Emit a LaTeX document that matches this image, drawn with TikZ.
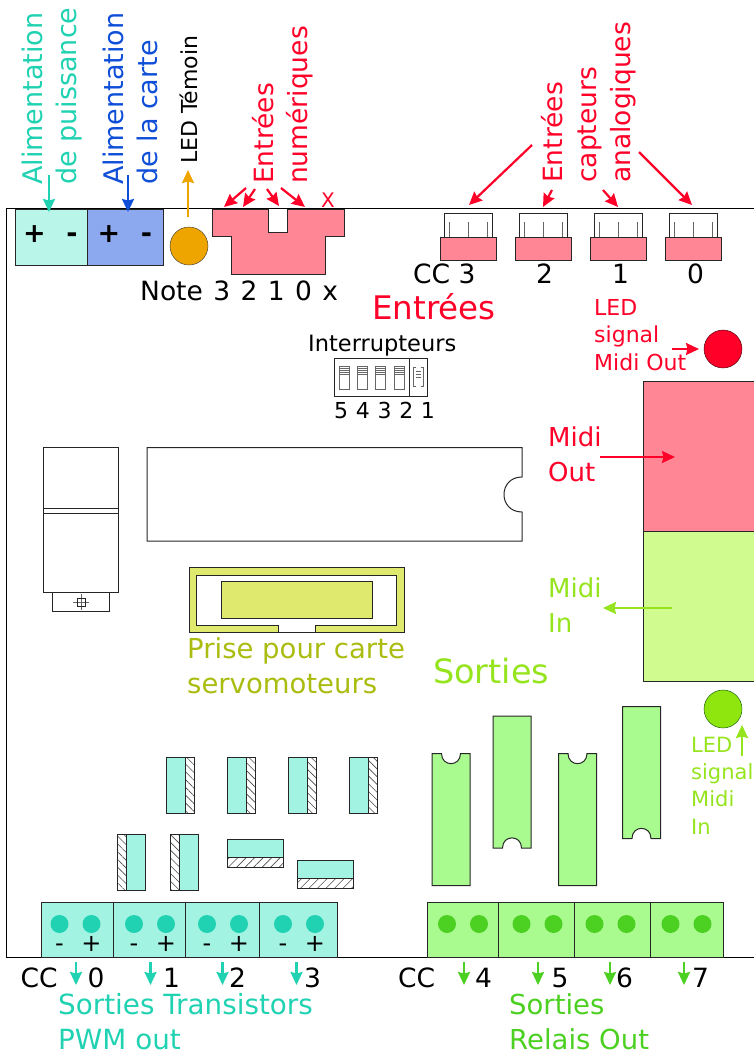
\documentclass[tikz,border=0pt]{standalone}
\usepackage{fontspec}
\setmainfont{DejaVu Sans}
\usepackage{xcolor}
\usetikzlibrary{arrows.meta,patterns.meta}
\definecolor{pink}{RGB}{255,135,149}
\definecolor{redtxt}{RGB}{255,0,40}
\definecolor{tealtxt}{RGB}{32,210,178}
\definecolor{tealpale}{RGB}{185,245,233}
\definecolor{tealfill}{RGB}{163,243,227}
\definecolor{bluefill}{RGB}{140,168,238}
\definecolor{bluetxt}{RGB}{15,79,216}
\definecolor{orangeled}{RGB}{239,165,0}
\definecolor{limefill}{RGB}{208,251,143}
\definecolor{limetxt}{RGB}{150,228,30}
\definecolor{ledlime}{RGB}{143,230,14}
\definecolor{greenfill}{RGB}{170,251,143}
\definecolor{greentxt}{RGB}{76,208,33}
\definecolor{olivetxt}{RGB}{170,188,16}
\definecolor{olivefill}{RGB}{223,233,110}
\newcommand{\fs}[1]{\fontsize{#1}{1.24\dimexpr#1pt\relax}\selectfont}
\tikzset{
	part/.style={draw=black!85,line width=1pt},
	txt/.style={inner sep=0pt,anchor=base west,align=left},
	vtxt/.style={txt,rotate=90},
	ptr/.style={line width=2.2pt,-{Stealth[length=13pt,width=12pt,inset=1.5pt]}},
	pin/.style={draw=black!60,line width=0.8pt},
	hatchv/.style={part,pattern={Lines[angle=-45,distance=5.5pt,line width=0.6pt]},pattern color=black!70},
	hatchh/.style={part,pattern={Lines[angle=45,distance=6pt,line width=0.6pt]},pattern color=black!70},
}
\begin{document}
\begin{tikzpicture}[x=1pt,y=-1pt]
	\useasboundingbox (0,0) rectangle (754,1053);

	% carte
	\draw[line width=0.8pt] (754,208.5) -- (6,208.5) -- (6,957.5) -- (754,957.5);

	% alimentations
	\filldraw[part,fill=tealpale] (15.5,209) rectangle (87,265);
	\filldraw[part,fill=bluefill] (87,209) rectangle (163.5,265);
	\foreach \nom/\x/\s in {pa/34.5/+,pb/72/-,pc/109/+,pd/146.5/-}
		\node[font=\fs{27}\bfseries,anchor=base,inner sep=0pt] (\nom) at (\x,242.5) {\s};
	\filldraw[draw=black!80,fill=orangeled] (189,246) circle (19);

	% entrees numeriques
	\filldraw[part,fill=pink] (212.5,209) -- (268.5,209) -- (268.5,232) -- (287.5,232) -- (287.5,209) -- (344,209) -- (344,236.5) -- (325,236.5) -- (325,274) -- (231.5,274) -- (231.5,236.5) -- (212.5,236.5) -- cycle;
	\node[txt,font=\fs{20},text=redtxt] (croix) at (321,207) {X};
	\node[txt,font=\fs{26.5}] (note) at (140,300) {\spaceskip=10.4pt Note 3 2 1 0 x};

	% entrees analogiques
	\foreach \x in {468,543,618,693} {
		\filldraw[part,fill=white] (\x-24,213) rectangle (\x+24,237);
		\foreach \d in {-19,0,19}
			\draw[pin] (\x+\d,222) -- (\x+\d,237);
		\filldraw[part,fill=pink] (\x-28,237) rectangle (\x+28,260);
	}
	\node[txt,font=\fs{26.5}] (cca) at (413,283) {CC 3};
	\node[txt,font=\fs{26.5}] (ccb) at (536,283) {2};
	\node[txt,font=\fs{26.5}] (ccc) at (612,283) {1};
	\node[txt,font=\fs{26.5}] (ccd) at (687,283) {0};
	\node[txt,font=\fs{32.5},text=redtxt] (entrees) at (372,319) {Entrées};

	% interrupteurs
	\node[txt,font=\fs{22.5}] (inter) at (308,351) {Interrupteurs};
	\draw[part] (334,358) rectangle (427.5,396);
	\draw[part] (409,358) -- (409,396);
	\foreach \x in {339,357.3,375.7,394} {
		\draw[pin] (\x,366) rectangle (\x+10,389);
		\foreach \y in {368,370,372,374}
			\draw[black!60,line width=0.6pt] (\x,\y) -- (\x+10,\y);
	}
	\draw[pin] (415.5,367) -- (413,367) -- (413,386) -- (415.5,386);
	\draw[pin] (420.5,367) -- (423,367) -- (423,386) -- (420.5,386);
	\foreach \y in {371,374,377}
		\draw[black!60,line width=0.6pt] (415.5,\y) -- (420.5,\y);
	\node[txt,font=\fs{22}] (numinter) at (334,418) {\spaceskip=7.7pt 5 4 3 2 1};

	% midi
	\filldraw[draw=redtxt!20!black,fill=redtxt] (723,349) circle (19);
	\node[txt,font=\fs{22},text=redtxt] (ledout) at (594,370) {LED\\signal\\Midi Out};
	\filldraw[part,fill=pink] (643,381) rectangle (755,531);
	\filldraw[part,fill=limefill] (643,531) rectangle (755,681);
	\node[txt,font=\fs{26},text=redtxt] (midiout) at (548,481) {Midi\\[2pt]Out};
	\node[txt,font=\fs{26},text=limetxt] (midiin) at (548,632) {Midi\\[2pt]In};
	\filldraw[draw=green!30!black,fill=ledlime] (723,709) circle (19);
	\node[txt,font=\fs{21},text=limetxt] (ledin) at (691,834) {LED\\[1pt]signal\\[1pt]Midi\\[1pt]In};

	% regulateur
	\draw[part] (43.5,447.5) rectangle (118.5,592.5);
	\draw[part] (43.5,508) -- (118.5,508);
	\draw[part] (43.5,513) -- (118.5,513);
	\draw[part] (52.5,592.5) rectangle (109.5,611.5);
	\draw[pin] (73,602) -- (89,602);
	\draw[pin] (81,594) -- (81,610);
	\draw[part] (77.5,598) rectangle (85,606);

	% microcontroleur
	\draw[part] (147,447.5) -- (522,447.5) -- (522,477) .. controls (498,477) and (498,512) .. (522,512) -- (522,541) -- (147,541) -- cycle;

	% prise servomoteurs
	\filldraw[part,fill=olivefill] (189,567.5) rectangle (404,632);
	\filldraw[part,fill=white] (196,575) -- (396.5,575) -- (396.5,625.5) -- (315.5,625.5) -- (315.5,632) -- (278.5,632) -- (278.5,625.5) -- (196,625.5) -- cycle;
	\filldraw[part,fill=olivefill] (221.5,581.5) rectangle (372.5,618.5);
	\node[txt,font=\fs{27.5},text=olivetxt] (prise) at (187,693) {Prise pour carte\\servomoteurs};

	\node[txt,font=\fs{33.5},text=limetxt] (sorties) at (433,683) {Sorties};

	% transistors
	\foreach \x in {166,227,288,349} {
		\filldraw[part,fill=tealfill] (\x,757) rectangle (\x+19,813);
		\draw[hatchv] (\x+19,757) rectangle (\x+28,813);
	}
	\foreach \x in {117,170} {
		\filldraw[part,fill=tealfill] (\x+9.5,834) rectangle (\x+28,890);
		\draw[hatchv] (\x,834) rectangle (\x+9.5,890);
	}
	\foreach \x/\y in {227/839,297/860} {
		\filldraw[part,fill=tealfill] (\x,\y) rectangle (\x+56.5,\y+18.5);
		\draw[hatchh] (\x,\y+18.5) rectangle (\x+56.5,\y+28);
	}

	% bornier transistors
	\filldraw[part,fill=tealfill] (41.5,902.5) rectangle (337.5,957.5);
	\foreach \x in {113,185.5,259.5}
		\draw[part] (\x,902.5) -- (\x,957.5);
	\foreach \x in {59.5,134,207,283} {
		\fill[tealtxt] (\x,924) circle (9);
		\fill[tealtxt] (\x+32,924) circle (9);
		\node[font=\fs{24},anchor=base,inner sep=0pt] at (\x,951) {-};
		\node[font=\fs{24},anchor=base,inner sep=0pt] at (\x+32,951) {+};
	}
	\node[txt,font=\fs{26.5}] (cct) at (20.5,987) {CC};
	\foreach \nom/\x/\s in {ta/87.5/0,tb/163/1,tc/229/2,td/304/3}
		\node[txt,font=\fs{26.5}] (\nom) at (\x,987) {\s};
	\node[txt,font=\fs{27.8},text=tealtxt] (sortrans) at (58,1049) {Sorties Transistors\\PWM out};

	% relais
	\foreach \x in {451,577.5} {
		\filldraw[part,fill=greenfill] (\x-19,753.5) -- (\x-9.5,753.5) .. controls (\x-9.5,767) and (\x+9.5,767) .. (\x+9.5,753.5) -- (\x+19,753.5) -- (\x+19,885.5) -- (\x-19,885.5) -- cycle;
	}
	\foreach \x/\y in {512/716,641.5/706.5} {
		\filldraw[part,fill=greenfill] (\x-19,\y) -- (\x+19,\y) -- (\x+19,\y+132) -- (\x+9.5,\y+132) .. controls (\x+9.5,\y+118.5) and (\x-9.5,\y+118.5) .. (\x-9.5,\y+132) -- (\x-19,\y+132) -- cycle;
	}

	% bornier relais
	\filldraw[part,fill=greenfill] (427.5,902) rectangle (723.5,957.5);
	\foreach \x in {498.5,574.5,650}
		\draw[part] (\x,902) -- (\x,957.5);
	\foreach \x in {447,521.5,594.5,670.5} {
		\fill[greentxt] (\x,924) circle (9);
		\fill[greentxt] (\x+32,924) circle (9);
	}
	\node[txt,font=\fs{26.5}] (ccr) at (398,987) {CC};
	\foreach \nom/\x/\s in {ra/475/4,rb/551.5/5,rc/616/6,rd/692/7}
		\node[txt,font=\fs{26.5}] (\nom) at (\x,987) {\s};
	\node[txt,font=\fs{27.5},text=greentxt] (sorrel) at (509,1049) {Sorties\\Relais Out};

	% textes verticaux
	\node[vtxt,font=\fs{27},text=tealtxt] (alimp) at (76,185) {Alimentation\\[0.5pt]de puissance};
	\node[vtxt,font=\fs{27},text=bluetxt] (alimc) at (157,185) {Alimentation\\[0.5pt]de la carte};
	\node[vtxt,font=\fs{22}] (ledtem) at (197,164) {LED Témoin};
	\node[vtxt,font=\fs{26.5},text=redtxt] (entnum) at (307,184) {Entrées\\[0.5pt]numériques};
	\node[vtxt,font=\fs{26.5},text=redtxt] (entana) at (630,183) {Entrées\\[1pt]capteurs\\[1pt]analogiques};

	% fleches
	\foreach \nom/\col/\xa/\ya/\xb/\yb in {
		ali/tealtxt/49/175/49/212, car/bluetxt/128/175/128/212, tem/orangeled/188/217/188/170,
		na/redtxt/246/188/224/207, nb/redtxt/255/189/243/207, nc/redtxt/267/189/279/206, nd/redtxt/281/188/305/207,
		aa/redtxt/532/145/469/205, ab/redtxt/552/190/543/207, ac/redtxt/603/190/618/207, ad/redtxt/639/152/692/205,
		lo/redtxt/672/349/699/349, mo/redtxt/600/457/675/457, mi/limetxt/672/608/603/608, li/limetxt/742/756/742/725,
		sa/tealtxt/76/962/76/985, sb/tealtxt/150.5/962/150.5/985, sc/tealtxt/222.5/962/222.5/985, sd/tealtxt/296.5/962/296.5/985,
		re/greentxt/464/962/464/985, rf/greentxt/538/962/538/985, rg/greentxt/610/962/610/985, rh/greentxt/684/962/684/985} {
		\coordinate (\nom1) at (\xa,\ya);
		\coordinate (\nom2) at (\xb,\yb);
		\draw[ptr,color=\col] (\nom1) -- (\nom2);
	}
\end{tikzpicture}
\end{document}
